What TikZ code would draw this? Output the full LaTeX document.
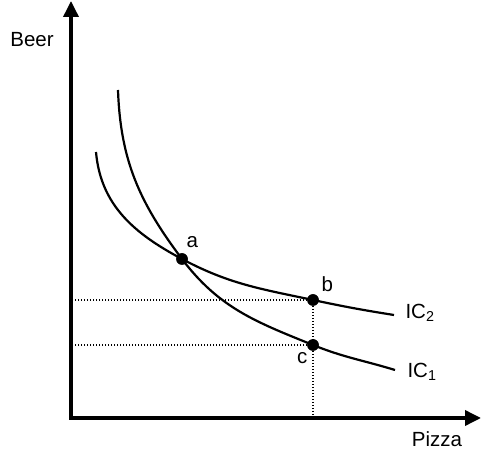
\documentclass[tikz,border=0pt]{standalone}
\usepackage{fontspec}
\setmainfont{Liberation Sans}
\usetikzlibrary{arrows.meta, positioning}

\begin{document}
\begin{tikzpicture}[x=1pt, y=1pt, font=\fontsize{20.5}{24}\selectfont,
    axis/.style={line width=3.5pt, {Triangle[length=16pt,width=15pt]}-{Triangle[length=16pt,width=15pt]}},
    curve/.style={line width=2.2pt},
    guide/.style={dash pattern=on 1.5pt off 1.5pt, line width=2pt},
    dot/.style={circle, fill, inner sep=0pt, minimum size=11.5pt}]
  \useasboundingbox (0,0) rectangle (481,454);
  % axes
  \coordinate (O) at (71,36);
  \coordinate (ytip) at (71,453);
  \coordinate (xtip) at (481,36);
  \draw[axis] (ytip) -- (O) -- (xtip);
  \node (beer) at (32,414) {Beer};
  \node (pizza) at (437,15) {Pizza};

  % bundles
  \node[dot] (a) at (182,195) {};
  \node[dot] (b) at (313,154) {};
  \node[dot] (c) at (313,109) {};
  \coordinate (ic1top) at (118,364);
  \coordinate (ic1end) at (395,84);
  \coordinate (ic2top) at (96,302);
  \coordinate (ic2end) at (394,139);

  % guides
  \draw[guide] (b.center) -- (b.center -| O);
  \draw[guide] (c.center) -- (c.center -| O);
  \draw[guide] (b.center) -- (b.center |- O);

  % indifference curves
  \draw[curve] (ic1top) to[out=-88,in=127] (a.center) to[out=-53,in=158] (c.center) to[out=-22,in=163] (ic1end);
  \draw[curve] (ic2top) to[out=-85,in=152] (a.center) to[out=-28,in=168] (b.center) to[out=-12,in=171] (ic2end);
  \node[dot] at (a) {};
  \node[dot] at (b) {};
  \node[dot] at (c) {};

  \node[above right=4pt and -3pt of a] (la) {a};
  \node[above right=1pt and 1pt of b] (lb) {b};
  \node[below left=0pt and -2pt of c] (lc) {c};
  \node[right=8pt of ic2end, yshift=2pt] (ic2) {IC\textsubscript{2}};
  \node[right=9pt of ic1end, yshift=-2pt] (ic1) {IC\textsubscript{1}};
\end{tikzpicture}
\end{document}
